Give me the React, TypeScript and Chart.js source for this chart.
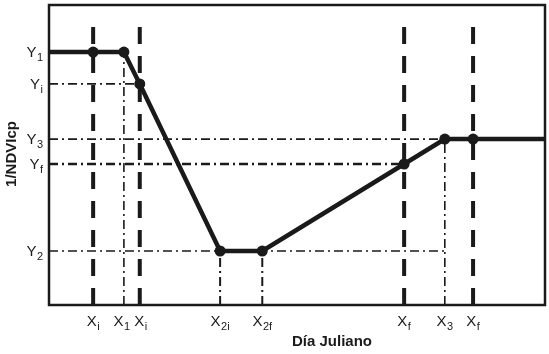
import React, { useEffect, useRef } from "react";
import { Chart, registerables } from "chart.js";

Chart.register(...registerables);

// x positions (arbitrary day units, 0..100) of the marked days
const xMains = ["X", "X", "X", "X", "X", "X", "X", "X"];
const xSubs = ["i", "1", "i", "2i", "2f", "f", "3", "f"];
const xValues = [8.9, 15.1, 18.3, 34.5, 43.0, 71.6, 79.8, 85.5];

// y levels (0..100) of 1/NDVIcp
const yMains = ["Y", "Y", "Y", "Y", "Y"];
const ySubs = ["1", "i", "3", "f", "2"];
const yValues = [84.3, 73.7, 55.3, 47.0, 18.0];

const X_MIN = 0;
const X_MAX = 100;
const Y_MIN = 0;
const Y_MAX = 100;
const DASH_TOP = 93.3;

// main curve
const curveX = [0, 8.9, 15.1, 18.3, 34.5, 43.0, 71.6, 79.8, 85.5, 100];
const curveY = [84.3, 84.3, 84.3, 73.7, 18.0, 18.0, 47.0, 55.3, 55.3, 55.3];
const curveMarkers = [0, 1, 1, 1, 1, 1, 1, 1, 1, 0];

const FONT = "'Liberation Sans', Arial, sans-serif";

function drawSub(
  ctx: CanvasRenderingContext2D,
  main: string,
  sub: string,
  x: number,
  y: number,
  align: "center" | "right"
) {
  ctx.save();
  ctx.textBaseline = "middle";
  ctx.textAlign = "left";
  const mainFont = `15px ${FONT}`;
  const subFont = `11px ${FONT}`;
  ctx.font = mainFont;
  const wm = ctx.measureText(main).width;
  ctx.font = subFont;
  const ws = ctx.measureText(sub).width;
  const total = wm + ws + 0.5;
  let x0 = x;
  if (align === "center") x0 = x - total / 2;
  else x0 = x - total;
  ctx.fillStyle = "#1a1a1a";
  ctx.font = mainFont;
  ctx.fillText(main, x0, y);
  ctx.font = subFont;
  ctx.fillText(sub, x0 + wm + 0.5, y + 5);
  ctx.restore();
}

const framePlugin = {
  id: "framePlugin",
  afterDraw(chart: any) {
    const { ctx, chartArea, scales } = chart;
    const xs = scales.x;
    const ys = scales.y;
    ctx.save();
    ctx.strokeStyle = "#1a1a1a";
    ctx.lineWidth = 2.5;
    ctx.strokeRect(
      chartArea.left,
      chartArea.top,
      chartArea.right - chartArea.left,
      chartArea.bottom - chartArea.top
    );
    ctx.restore();

    // y tick labels
    for (let i = 0; i < yValues.length; i++) {
      const py = ys.getPixelForValue(yValues[i]);
      drawSub(ctx, yMains[i], ySubs[i], chartArea.left - 6, py + 1, "right");
    }
    // x tick labels
    for (let i = 0; i < xValues.length; i++) {
      const px = xs.getPixelForValue(xValues[i]);
      let adj = 0;
      if (i === 1) adj = -2;
      if (i === 2) adj = 1;
      drawSub(ctx, xMains[i], xSubs[i], px + adj, chartArea.bottom + 17, "center");
    }

    // axis titles
    ctx.save();
    ctx.fillStyle = "#1a1a1a";
    ctx.font = `bold 15px ${FONT}`;
    ctx.textAlign = "center";
    ctx.textBaseline = "middle";
    ctx.fillText("Día Juliano", 332, chartArea.bottom + 37);
    ctx.translate(12, 154);
    ctx.rotate(-Math.PI / 2);
    ctx.fillText("1/NDVIcp", 0, 0);
    ctx.restore();
  },
};

function seg(x1: number, y1: number, x2: number, y2: number) {
  return [
    { x: x1, y: y1 },
    { x: x2, y: y2 },
  ];
}

export default function App() {
  const ref = useRef<HTMLCanvasElement | null>(null);

  useEffect(() => {
    document.body.style.margin = "0";
    const canvas = ref.current;
    if (!canvas) return;

    const dashDot = [9, 4, 2, 4];
    const thin = (data: any[], w = 1.6) => ({
      data,
      borderColor: "#1a1a1a",
      borderWidth: w,
      borderDash: dashDot,
      pointRadius: 0,
      fill: false,
    });
    const thick = (data: any[]) => ({
      data,
      borderColor: "#1a1a1a",
      borderWidth: 4,
      borderDash: [17, 12],
      pointRadius: 0,
      fill: false,
    });

    const datasets: any[] = [
      {
        data: curveX.map((x, i) => ({ x, y: curveY[i] })),
        borderColor: "#1a1a1a",
        backgroundColor: "#1a1a1a",
        borderWidth: 4.5,
        pointRadius: curveMarkers.map((m) => (m ? 5.5 : 0)),
        pointBorderWidth: 0,
        pointBackgroundColor: "#1a1a1a",
        fill: false,
        tension: 0,
      },
      // horizontal dash-dot guides
      thin(seg(X_MIN, yValues[1], xValues[2], yValues[1])),
      thin(seg(X_MIN, yValues[2], xValues[6], yValues[2])),
      thin(seg(X_MIN, yValues[3], xValues[5], yValues[3]), 2.5),
      thin(seg(X_MIN, yValues[4], xValues[6], yValues[4])),
      // vertical dash-dot guides
      thin(seg(xValues[1], Y_MIN, xValues[1], yValues[0])),
      thin(seg(xValues[3], Y_MIN, xValues[3], yValues[4]), 2),
      thin(seg(xValues[4], Y_MIN, xValues[4], yValues[4]), 2),
      thin(seg(xValues[6], Y_MIN, xValues[6], yValues[2])),
      // thick dashed verticals
      thick(seg(xValues[0], Y_MIN, xValues[0], DASH_TOP)),
      thick(seg(xValues[2], Y_MIN, xValues[2], DASH_TOP)),
      thick(seg(xValues[5], Y_MIN, xValues[5], DASH_TOP)),
      thick(seg(xValues[7], Y_MIN, xValues[7], DASH_TOP)),
    ];

    const chart = new Chart(canvas, {
      type: "line",
      data: { datasets },
      options: {
        animation: false,
        responsive: false,
        maintainAspectRatio: false,
        layout: { padding: { left: 49, top: 5, right: 4, bottom: 49 } },
        plugins: {
          legend: { display: false },
          tooltip: { enabled: false },
        },
        scales: {
          x: { type: "linear", min: X_MIN, max: X_MAX, display: false },
          y: { type: "linear", min: Y_MIN, max: Y_MAX, display: false },
        },
      },
      plugins: [framePlugin],
    });
    return () => chart.destroy();
  }, []);

  return (
    <div style={{ width: 549, height: 354, background: "#fff" }}>
      <canvas ref={ref} width={549} height={354} />
    </div>
  );
}
